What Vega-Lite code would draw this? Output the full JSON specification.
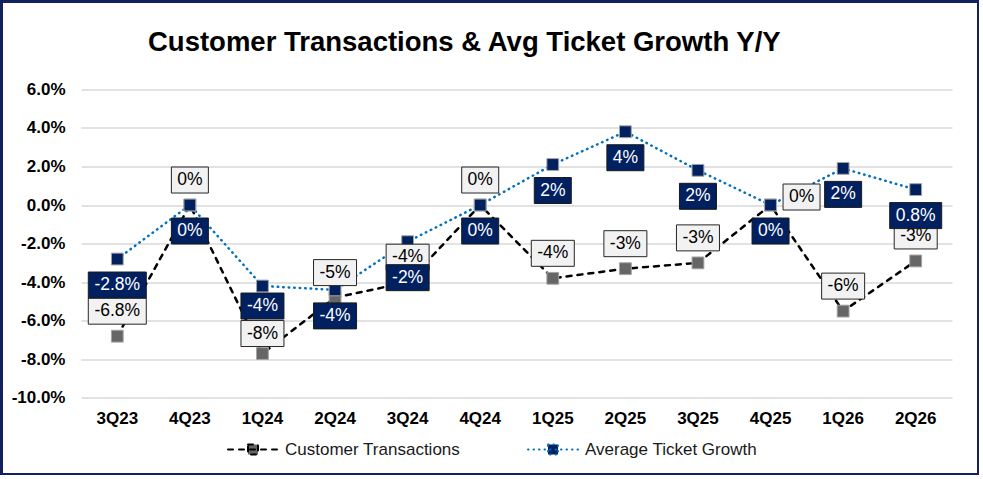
{
  "$schema": "https://vega.github.io/schema/vega-lite/v6.json",
  "width": 977,
  "height": 473,
  "autosize": {"type": "none"},
  "padding": {"left": 1.5, "top": 1.5, "right": 0, "bottom": 0},
  "background": "white",
  "title": {
    "text": "Customer Transactions & Avg Ticket Growth Y/Y",
    "anchor": "start",
    "frame": "group",
    "orient": "top",
    "baseline": "alphabetic",
    "offset": -76.5,
    "dx": 146.5,
    "font": "Liberation Sans",
    "fontSize": 27.5,
    "fontWeight": "bold",
    "color": "#000000"
  },
  "data": {
    "values": [
      {"q": "3Q23", "Customer Transactions": -0.068, "Average Ticket Growth": -0.028, "ctLabel": "-6.8%", "atLabel": "-2.8%"},
      {"q": "4Q23", "Customer Transactions": 0.0, "Average Ticket Growth": 0.0, "ctLabel": "0%", "atLabel": "0%"},
      {"q": "1Q24", "Customer Transactions": -0.077, "Average Ticket Growth": -0.042, "ctLabel": "-8%", "atLabel": "-4%"},
      {"q": "2Q24", "Customer Transactions": -0.048, "Average Ticket Growth": -0.044, "ctLabel": "-5%", "atLabel": "-4%"},
      {"q": "3Q24", "Customer Transactions": -0.040, "Average Ticket Growth": -0.019, "ctLabel": "-4%", "atLabel": "-2%"},
      {"q": "4Q24", "Customer Transactions": 0.0, "Average Ticket Growth": 0.0, "ctLabel": "0%", "atLabel": "0%"},
      {"q": "1Q25", "Customer Transactions": -0.038, "Average Ticket Growth": 0.021, "ctLabel": "-4%", "atLabel": "2%"},
      {"q": "2Q25", "Customer Transactions": -0.033, "Average Ticket Growth": 0.038, "ctLabel": "-3%", "atLabel": "4%"},
      {"q": "3Q25", "Customer Transactions": -0.030, "Average Ticket Growth": 0.018, "ctLabel": "-3%", "atLabel": "2%"},
      {"q": "4Q25", "Customer Transactions": 0.0, "Average Ticket Growth": 0.0, "ctLabel": "0%", "atLabel": "0%"},
      {"q": "1Q26", "Customer Transactions": -0.055, "Average Ticket Growth": 0.019, "ctLabel": "-6%", "atLabel": "2%"},
      {"q": "2Q26", "Customer Transactions": -0.029, "Average Ticket Growth": 0.008, "ctLabel": "-3%", "atLabel": "0.8%"}
    ]
  },
  "encoding": {
    "x": {
      "field": "q",
      "type": "nominal",
      "sort": null,
      "scale": {"type": "band", "range": [79.5, 950.5], "paddingInner": 0, "paddingOuter": 0},
      "axis": {
        "title": null,
        "orient": "bottom",
        "domain": false,
        "ticks": false,
        "grid": false,
        "labelAngle": 0,
        "labelFont": "Liberation Sans",
        "labelFontSize": 17,
        "labelFontWeight": "bold",
        "labelColor": "#000000",
        "labelPadding": 12,
        "offset": -76
      }
    }
  },
  "layer": [
    {
      "transform": [{"fold": ["Customer Transactions", "Average Ticket Growth"], "as": ["series", "value"]}],
      "mark": {"type": "line", "strokeWidth": 2.5, "strokeCap": "round"},
      "encoding": {
        "y": {
          "field": "value",
          "type": "quantitative",
          "scale": {"domain": [-0.1, 0.06], "range": [396.4, 87.8], "nice": false, "zero": false},
          "axis": {
            "title": null,
            "values": [-0.1, -0.08, -0.06, -0.04, -0.02, 0, 0.02, 0.04, 0.06],
            "labelExpr": "replace(format(datum.value, '.1%'), '\u2212', '-')",
            "domain": false,
            "ticks": false,
            "grid": true,
            "gridColor": "#d9d9d9",
            "gridWidth": 1.3,
            "labelFont": "Liberation Sans",
            "labelFontSize": 17,
            "labelFontWeight": "bold",
            "labelColor": "#000000",
            "labelPadding": 0,
            "offset": -63.5
          }
        },
        "stroke": {
          "field": "series",
          "type": "nominal",
          "scale": {"domain": ["Customer Transactions", "Average Ticket Growth"], "range": ["#000000", "#0070C0"]},
          "legend": {
            "orient": "none",
            "legendX": 225.5,
            "legendY": 422,
            "direction": "horizontal",
            "title": null,
            "symbolType": "M-1,0H1M-0.2,-0.2H0.2V0.2H-0.2Z",
            "symbolSize": 2500,
            "symbolStrokeWidth": 2,
            "labelFont": "Liberation Sans",
            "labelFontSize": 17,
            "labelColor": "#1a1a1a",
            "labelLimit": 400,
            "labelOffset": 6,
            "columnPadding": 63,
            "padding": 0,
            "encode": {"symbols": {"update": {"fill": {"signal": "datum.value === 'Customer Transactions' ? '#666666' : '#002060'"}, "strokeCap": {"value": "round"}}}}
          }
        },
        "strokeDash": {
          "field": "series",
          "type": "nominal",
          "scale": {"domain": ["Customer Transactions", "Average Ticket Growth"], "range": [[5, 6], [0.5, 5]]},
          "legend": {
            "orient": "none",
            "legendX": 225.5,
            "legendY": 422,
            "direction": "horizontal",
            "title": null,
            "symbolType": "M-1,0H1M-0.2,-0.2H0.2V0.2H-0.2Z",
            "symbolSize": 2500,
            "symbolStrokeWidth": 2,
            "labelFont": "Liberation Sans",
            "labelFontSize": 17,
            "labelColor": "#1a1a1a",
            "labelLimit": 400,
            "labelOffset": 6,
            "columnPadding": 63,
            "padding": 0,
            "encode": {"symbols": {"update": {"fill": {"signal": "datum.value === 'Customer Transactions' ? '#666666' : '#002060'"}, "strokeCap": {"value": "round"}}}}
          }
        }
      }
    },
    {
      "transform": [{"fold": ["Customer Transactions", "Average Ticket Growth"], "as": ["series", "value"]}],
      "mark": {"type": "point", "shape": "square", "filled": true, "size": 140, "stroke": "#a5a5a5", "strokeWidth": 1, "opacity": 1},
      "encoding": {
        "y": {"field": "value", "type": "quantitative"},
        "fill": {
          "field": "series",
          "type": "nominal",
          "scale": {"domain": ["Customer Transactions", "Average Ticket Growth"], "range": ["#666666", "#002060"]},
          "legend": null
        }
      }
    },
    {
      "mark": {"type": "point", "filled": true, "fill": "#f2f2f2", "stroke": "#262626", "strokeWidth": 1, "size": 4, "opacity": 1},
      "encoding": {
        "y": {"field": "Customer Transactions", "type": "quantitative"},
        "shape": {
          "field": "q",
          "type": "nominal",
          "legend": null,
          "scale": {
            "domain": ["3Q23", "4Q23", "1Q24", "2Q24", "3Q24", "4Q24", "1Q25", "2Q25", "3Q25", "4Q25", "1Q26", "2Q26"],
            "range": [
              "M-29,-38H29V-12H-29Z",
              "M-18.5,-38H18.5V-12H-18.5Z",
              "M-21.5,-33H21.5V-7H-21.5Z",
              "M-21.5,-38H21.5V-12H-21.5Z",
              "M-21.5,-38H21.5V-12H-21.5Z",
              "M-18.5,-38H18.5V-12H-18.5Z",
              "M-21.5,-38H21.5V-12H-21.5Z",
              "M-21.5,-38H21.5V-12H-21.5Z",
              "M-21.5,-38H21.5V-12H-21.5Z",
              "M12.5,-21H49.5V5H12.5Z",
              "M-21.5,-38H21.5V-12H-21.5Z",
              "M-21.5,-38H21.5V-12H-21.5Z"
            ]
          }
        }
      }
    },
    {
      "transform": [{"filter": "datum.q !== '4Q25' && datum.q !== '1Q24'"}],
      "mark": {"type": "text", "dy": -25, "font": "Liberation Sans", "fontSize": 17.5, "color": "#000000"},
      "encoding": {
        "y": {"field": "Customer Transactions", "type": "quantitative"},
        "text": {"field": "ctLabel"}
      }
    },
    {
      "transform": [{"filter": "datum.q === '1Q24'"}],
      "mark": {"type": "text", "dy": -20, "font": "Liberation Sans", "fontSize": 17.5, "color": "#000000"},
      "encoding": {
        "y": {"field": "Customer Transactions", "type": "quantitative"},
        "text": {"field": "ctLabel"}
      }
    },
    {
      "transform": [{"filter": "datum.q === '4Q25'"}],
      "mark": {"type": "text", "dx": 31, "dy": -8, "font": "Liberation Sans", "fontSize": 17.5, "color": "#000000"},
      "encoding": {
        "y": {"field": "Customer Transactions", "type": "quantitative"},
        "text": {"field": "ctLabel"}
      }
    },
    {
      "mark": {"type": "point", "filled": true, "fill": "#002060", "stroke": "#1a1a1a", "strokeWidth": 1, "size": 4, "opacity": 1},
      "encoding": {
        "y": {"field": "Average Ticket Growth", "type": "quantitative"},
        "shape": {
          "field": "q",
          "type": "nominal",
          "legend": null,
          "scale": {
            "domain": ["3Q23", "4Q23", "1Q24", "2Q24", "3Q24", "4Q24", "1Q25", "2Q25", "3Q25", "4Q25", "1Q26", "2Q26"],
            "range": [
              "M-29,13H29V39H-29Z",
              "M-18.5,13H18.5V39H-18.5Z",
              "M-21.5,7H21.5V33H-21.5Z",
              "M-21.5,13H21.5V39H-21.5Z",
              "M-21.5,23H21.5V49H-21.5Z",
              "M-18.5,13H18.5V39H-18.5Z",
              "M-18.5,13H18.5V39H-18.5Z",
              "M-18.5,13H18.5V39H-18.5Z",
              "M-18.5,13H18.5V39H-18.5Z",
              "M-18.5,13H18.5V39H-18.5Z",
              "M-18.5,13H18.5V39H-18.5Z",
              "M-26,13H26V39H-26Z"
            ]
          }
        }
      }
    },
    {
      "transform": [{"filter": "datum.q !== '1Q24' && datum.q !== '3Q24'"}],
      "mark": {"type": "text", "dy": 26, "font": "Liberation Sans", "fontSize": 17.5, "color": "#ffffff"},
      "encoding": {
        "y": {"field": "Average Ticket Growth", "type": "quantitative"},
        "text": {"field": "atLabel"}
      }
    },
    {
      "transform": [{"filter": "datum.q === '1Q24'"}],
      "mark": {"type": "text", "dy": 20, "font": "Liberation Sans", "fontSize": 17.5, "color": "#ffffff"},
      "encoding": {
        "y": {"field": "Average Ticket Growth", "type": "quantitative"},
        "text": {"field": "atLabel"}
      }
    },
    {
      "transform": [{"filter": "datum.q === '3Q24'"}],
      "mark": {"type": "text", "dy": 36, "font": "Liberation Sans", "fontSize": 17.5, "color": "#ffffff"},
      "encoding": {
        "y": {"field": "Average Ticket Growth", "type": "quantitative"},
        "text": {"field": "atLabel"}
      }
    }
  ],
  "resolve": {"scale": {"shape": "independent"}},
  "config": {
    "view": {"stroke": "#13225f", "strokeWidth": 3},
    "font": "Liberation Sans"
  }
}
